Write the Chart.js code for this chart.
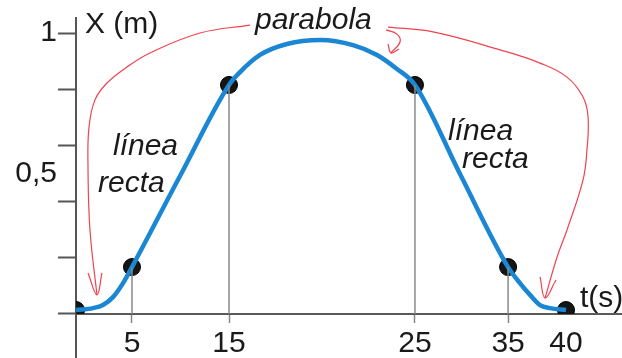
<!DOCTYPE html>
<html>
<head>
<meta charset="utf-8">
<script src="https://cdn.jsdelivr.net/npm/chart.js@4.4.1/dist/chart.umd.min.js"></script>
<style>
  html, body { margin: 0; padding: 0; background: #fff; }
  #wrap { width: 622px; height: 358px; }
</style>
</head>
<body>
<div id="wrap"><canvas id="grafico"></canvas></div>
<script>
// eje t no esta a escala en el dibujo: posicion sobre el eje de cada marca
const tLabels = ['0', '5', '15', '25', '35', '40'];
const tAxisPos = [0, 4.57, 12.49, 27.67, 35.27, 40];

// puntos negros (x en m)
const pointX = [0.014, 0.167, 0.815, 0.815, 0.167, 0.014];

// curva azul (t en posicion de eje, x en m)
const curveT = [0, 1.39, 2.2, 3.02, 3.84, 4.57, 8.49, 12.49, 13.39, 15.02, 17.22, 19.92, 22.61, 24.57, 26.2, 27.67, 31.43, 35.27, 36.24, 37.06, 37.88, 38.69, 40];
const curveX = [0.014, 0.021, 0.032, 0.06, 0.11, 0.167, 0.491, 0.815, 0.861, 0.922, 0.961, 0.975, 0.957, 0.922, 0.872, 0.815, 0.491, 0.167, 0.11, 0.068, 0.032, 0.021, 0.014];

// eje X: marcas y etiquetas
const yTickVals = [0, 0.2, 0.4, 0.5, 0.6, 0.8, 1];
const yTickLabels = ['', '', '', '0,5', '', '', '1'];

// flechas rojas
const arrowLeftT = [14.2, 10.12, 6.04, 4.16, 2.53, 1.55, 1.06, 0.98, 1.14, 1.71];
const arrowLeftX = [1.028, 1.0, 0.929, 0.879, 0.822, 0.762, 0.665, 0.523, 0.299, 0.068];
const headLeftT = [0.98, 1.71, 2.12];
const headLeftX = [0.146, 0.068, 0.146];
const arrowRightT = [25.47, 29.14, 34.61, 37.88, 40.08, 41.39, 41.8, 41.71, 41.39, 40.08, 39.27, 38.29];
const arrowRightX = [1.021, 1.004, 0.94, 0.893, 0.843, 0.772, 0.701, 0.584, 0.477, 0.299, 0.203, 0.057];
const headRightT = [37.88, 38.29, 39.18];
const headRightX = [0.132, 0.057, 0.121];
const arrowTopT = [25.31, 26.2, 26.45, 25.71];
const arrowTopX = [1.011, 0.996, 0.968, 0.929];
const headTopT = [25.47, 25.71, 26.37];
const headTopX = [0.961, 0.929, 0.943];

// textos sueltos
const notes = [
    { text: 'X (m)', t: 0.73, x: 1.0, italic: false },
    { text: 'parabola', t: 14.61, x: 1.014, italic: true },
    { text: 'línea', t: 3.02, x: 0.566, italic: true },
    { text: 'recta', t: 1.8, x: 0.434, italic: true },
    { text: 'línea', t: 30.37, x: 0.619, italic: true },
    { text: 'recta', t: 31.51, x: 0.52, italic: true },
    { text: 't(s)', t: 41.14, x: 0.025, italic: false }
];

const FONT = '"Liberation Sans", Arial, sans-serif';

function zipXY(ts, xs) {
    return ts.map((t, i) => ({ x: t, y: xs[i] }));
}

// lineas grises verticales desde cada punto al eje
const dropData = [];
for (let i = 1; i <= 4; i++) {
    dropData.push({ x: tAxisPos[i], y: 0 });
    dropData.push({ x: tAxisPos[i], y: pointX[i] });
    dropData.push({ x: tAxisPos[i], y: null });
}

function redLine(ts, xs) {
    return {
        data: zipXY(ts, xs),
        borderColor: '#f0424f',
        borderWidth: 1.2,
        pointRadius: 0,
        tension: 0.4,
        fill: false,
        clip: false
    };
}

// sin relleno extra por las etiquetas
function noPad(s) {
    s.paddingTop = 0;
    s.paddingBottom = 0;
    s.paddingLeft = 0;
    s.paddingRight = 0;
}

const notesPlugin = {
    id: 'notes',
    afterDatasetsDraw(chart) {
        const ctx = chart.ctx;
        const xs = chart.scales.x, ys = chart.scales.y;
        ctx.save();
        ctx.fillStyle = '#1a1a1a';
        ctx.textAlign = 'left';
        ctx.textBaseline = 'alphabetic';
        notes.forEach(n => {
            ctx.font = (n.italic ? 'italic ' : '') + '30px ' + FONT;
            ctx.fillText(n.text, xs.getPixelForValue(n.t), ys.getPixelForValue(n.x));
        });
        ctx.restore();
    }
};

const ctx = document.getElementById('grafico').getContext('2d');
new Chart(ctx, {
    type: 'line',
    data: {
        datasets: [
            {
                data: dropData,
                borderColor: '#8a8a8a',
                borderWidth: 1.5,
                pointRadius: 0,
                spanGaps: false,
                tension: 0
            },
            {
                data: zipXY(curveT, curveX),
                borderColor: '#1b87d4',
                borderWidth: 4.5,
                pointRadius: 0,
                cubicInterpolationMode: 'monotone',
                fill: false
            },
            {
                data: zipXY(tAxisPos, pointX),
                showLine: false,
                pointRadius: 8.5,
                pointBackgroundColor: '#151515',
                pointBorderColor: '#000',
                pointBorderWidth: 1,
                clip: { left: 0, top: false, right: false, bottom: -44 }
            },
            redLine(arrowLeftT, arrowLeftX),
            redLine(headLeftT, headLeftX),
            redLine(arrowRightT, arrowRightX),
            redLine(headRightT, headRightX),
            redLine(arrowTopT, arrowTopX),
            redLine(headTopT, headTopX)
        ]
    },
    options: {
        responsive: true,
        maintainAspectRatio: false,
        animation: false,
        layout: { autoPadding: false, padding: { left: 0, top: 18, right: 0, bottom: 0 } },
        plugins: { legend: { display: false }, tooltip: { enabled: false } },
        scales: {
            x: {
                type: 'linear',
                position: { y: 0 },
                min: 0,
                max: 44.57,
                afterBuildTicks: (s) => { s.ticks = tAxisPos.slice(1).map(v => ({ value: v })); },
                afterFit: noPad,
                ticks: {
                    autoSkip: false,
                    maxRotation: 0,
                    padding: 4,
                    color: '#1a1a1a',
                    font: { family: FONT, size: 30 },
                    callback: (v, i) => tLabels[i + 1]
                },
                grid: {
                    drawOnChartArea: false,
                    drawTicks: true,
                    tickLength: 8,
                    tickWidth: 1.5,
                    tickColor: (c) => (c.tick && c.tick.value === 40 ? 'rgba(0,0,0,0)' : '#888')
                },
                border: { display: true, color: '#5a5a5a', width: 2 }
            },
            y: {
                type: 'linear',
                position: 'left',
                min: -0.1566,
                max: 1.0534,
                afterBuildTicks: (s) => { s.ticks = yTickVals.map(v => ({ value: v })); },
                afterFit: (s) => { noPad(s); s.width = 76; },
                ticks: {
                    autoSkip: false,
                    padding: 1,
                    color: '#1a1a1a',
                    font: { family: FONT, size: 30 },
                    callback: (v, i) => yTickLabels[i]
                },
                grid: {
                    drawOnChartArea: false,
                    drawTicks: true,
                    tickLength: 18,
                    tickWidth: 2,
                    tickColor: (c) => (c.tick && c.tick.value === 0.5 ? 'rgba(0,0,0,0)' : '#555')
                },
                border: { display: true, color: '#555', width: 2 }
            }
        }
    },
    plugins: [notesPlugin]
});
</script>
</body>
</html>
